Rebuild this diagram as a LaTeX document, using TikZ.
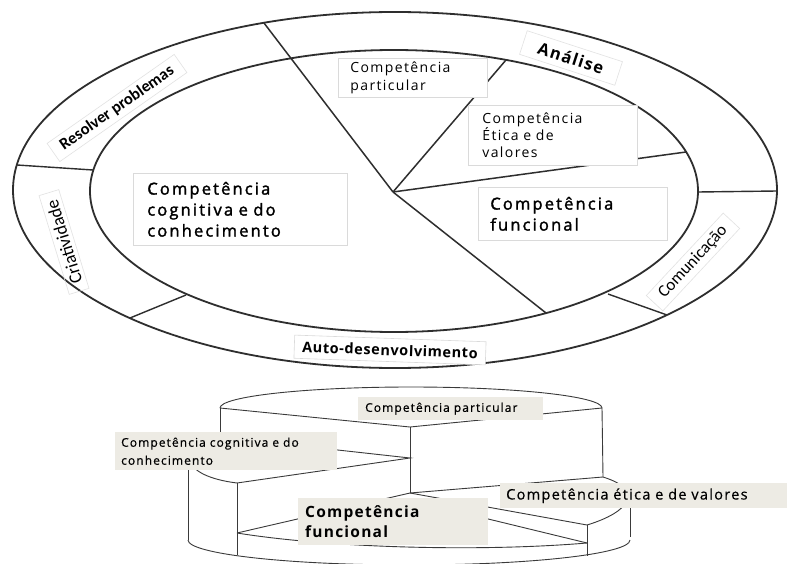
\documentclass[tikz,border=0pt]{standalone}
\usepackage{fontspec}
\setmainfont{Open Sans}
\newfontfamily\fbig[LetterSpace=13,FakeBold=1.8]{Open Sans}
\newfontfamily\fsm[LetterSpace=10]{Open Sans}
\newfontfamily\fbsm[LetterSpace=9,FakeBold=0.6]{Open Sans}
\newfontfamily\fbld[LetterSpace=8]{Open Sans}
\newfontfamily\fbau[LetterSpace=4]{Open Sans}
\newfontfamily\fcal{Carlito}
\definecolor{linec}{HTML}{2E2E2E}
\definecolor{boxline}{HTML}{DADADA}
\definecolor{lblline}{HTML}{E2E2E2}
\definecolor{cylc}{HTML}{3A3A3A}
\definecolor{beige}{HTML}{EDEBE4}
\begin{document}
\begin{tikzpicture}[x=1bp,y=-1bp,
  ring/.style={draw=linec, line width=1.8bp},
  div/.style={draw=linec, line width=1.4bp},
  pie/.style={draw=linec, line width=1.5bp},
  tbox/.style={draw=boxline, fill=white, line width=0.7bp, anchor=north west, inner ysep=0pt, align=left},
  lbl/.style={draw=lblline, line width=0.6bp, inner sep=4bp},
  cyl/.style={draw=cylc, line width=0.9bp},
  bbox/.style={fill=beige, anchor=north west, inner ysep=0pt, align=left}]
\useasboundingbox (0,0) rectangle (787,564);
\fill[white] (0,0) rectangle (787,564);

% ---------- top diagram ----------
\coordinate (C) at (393,192);
\coordinate (o1) at (264,23);
\coordinate (d2o) at (17,165);
\coordinate (d2i) at (93,170);
\coordinate (d3o) at (130,318);
\coordinate (d3i) at (186,295);
\coordinate (d4i) at (608,294);
\coordinate (d4o) at (667,315);
\coordinate (d5i) at (698,192);
\coordinate (d5o) at (777,191);
\coordinate (p1) at (506,60);
\coordinate (p2) at (686,152);
\coordinate (p3) at (546,313);

\draw[ring] (395,190) ellipse [x radius=382, y radius=178];
\draw[ring] (394,191) ellipse [x radius=304, y radius=141];

\draw[div] (d2o) -- (d2i);
\draw[div] (d3o) -- (d3i);
\draw[div] (d4i) -- (d4o);
\draw[div] (d5i) -- (d5o);
\draw[pie] (o1) -- (C);
\draw[pie] (C) -- (p1);
\draw[pie] (C) -- (p2);
\draw[pie] (C) -- (p3);

\node[tbox, minimum width=149bp, minimum height=39bp, text width=125bp, inner xsep=12bp,
  font={\fsm\fontsize{14bp}{18bp}\selectfont}] (par) at (338,58) {Competência\\particular};
\node[tbox, minimum width=169bp, minimum height=60bp, text width=141bp, inner xsep=14bp,
  font={\fsm\fontsize{14bp}{17bp}\selectfont}] (eti) at (468,105) {Competência\\Ética e de\\valores};
\node[tbox, minimum width=214bp, minimum height=72bp, text width=186bp, inner xsep=14bp,
  font={\fbig\fontsize{16.5bp}{21bp}\selectfont}] (cog) at (133,173) {Competência\\cognitiva e do\\conhecimento};
\node[tbox, minimum width=189bp, minimum height=53bp, text width=165bp, inner xsep=12bp,
  font={\fbig\fontsize{16.5bp}{21bp}\selectfont}] (fun) at (478,187) {Competência\\funcional};

\node[lbl, rotate=35, inner xsep=10bp, font={\fcal\bfseries\fontsize{16.5bp}{18bp}\selectfont}] (res) at (117,108) {Resolver problemas};
\node[lbl, rotate=-18, inner xsep=16bp, inner ysep=6bp, font={\fbld\bfseries\fontsize{16.5bp}{18bp}\selectfont}] (ana) at (571,58) {Análise};
\node[lbl, rotate=47, inner xsep=10bp, font={\fcal\fontsize{17bp}{19bp}\selectfont}] (com) at (693,262) {Comunicação};
\node[lbl, rotate=107, inner xsep=8bp, font={\fcal\fontsize{18bp}{19bp}\selectfont}] (cri) at (64,242) {Criatividade};
\node[lbl, draw=boxline, fill=white, rotate=-2, inner xsep=8bp, inner ysep=6bp,
  font={\fbau\bfseries\fontsize{14.5bp}{16bp}\selectfont}] (aut) at (390,350) {Auto-desenvolvimento};

% ---------- bottom diagram ----------
\coordinate (tL) at (220,408);
\coordinate (tR) at (602,408);
\coordinate (tC) at (410,427);
\coordinate (gL) at (220,437);
\coordinate (gC) at (410,458);
\coordinate (gF) at (237,483);
\coordinate (gO) at (188,468);
\coordinate (eC) at (410,493);
\coordinate (eR) at (603,477);
\coordinate (eF) at (587,525);
\coordinate (eT) at (630,508);
\coordinate (fL) at (237,533);
\coordinate (fR) at (587,543);
\coordinate (fC) at (410,500);

% top layer
\draw[cyl] (tL) arc[start angle=180, end angle=360, x radius=191, y radius=21];
\draw[cyl] (tL) -- (tC) -- (tR);
\draw[cyl] (tL) -- (gL);
\draw[cyl] (tC) -- (eC);
\draw[cyl] (tR) -- (eR);
% cognitive layer
\draw[cyl] (gL) -- (gC) -- (gF);
\draw[cyl] (gL) .. controls (175,448) and (180,476) .. (gF);
\draw[cyl] (gO) -- (188,540);
\draw[cyl] (gF) -- (237,555);
\draw[cyl] (188,540) arc[start angle=180, end angle=0, x radius=221, y radius=25];
% functional layer
\draw[cyl] (fL) -- (eC);
\draw[cyl] (fL) .. controls (330,548) and (480,552) .. (fR);
\draw[cyl] (fC) -- (fR);
% ethics layer
\draw[cyl] (eC) -- (eR);
\draw[cyl] (eC) -- (eF);
\draw[cyl] (eR) .. controls (645,490) and (630,512) .. (eF);
\draw[cyl] (eF) -- (587,556);
\draw[cyl] (eT) -- (630,537);

\node[bbox, minimum width=185bp, minimum height=23bp, text width=171bp, inner xsep=7bp,
  font={\fbsm\fontsize{12bp}{14bp}\selectfont}] (parB) at (358,397) {Competência particular};
\node[bbox, minimum width=222bp, minimum height=38bp, text width=210bp, inner xsep=6bp,
  font={\fbsm\fontsize{12bp}{18bp}\selectfont}] (cogB) at (115,432) {Competência cognitiva e do\\conhecimento};
\node[bbox, minimum width=287bp, minimum height=25bp, text width=275bp, inner xsep=6bp,
  font={\fbsm\fontsize{14.5bp}{16bp}\selectfont}] (etiB) at (500,483) {Competência ética e de valores};
\node[bbox, minimum width=190bp, minimum height=47bp, text width=176bp, inner xsep=7bp,
  font={\fbld\bfseries\fontsize{15.5bp}{20bp}\selectfont}] (funB) at (298,498) {Competência\\funcional};
\end{tikzpicture}
\end{document}
